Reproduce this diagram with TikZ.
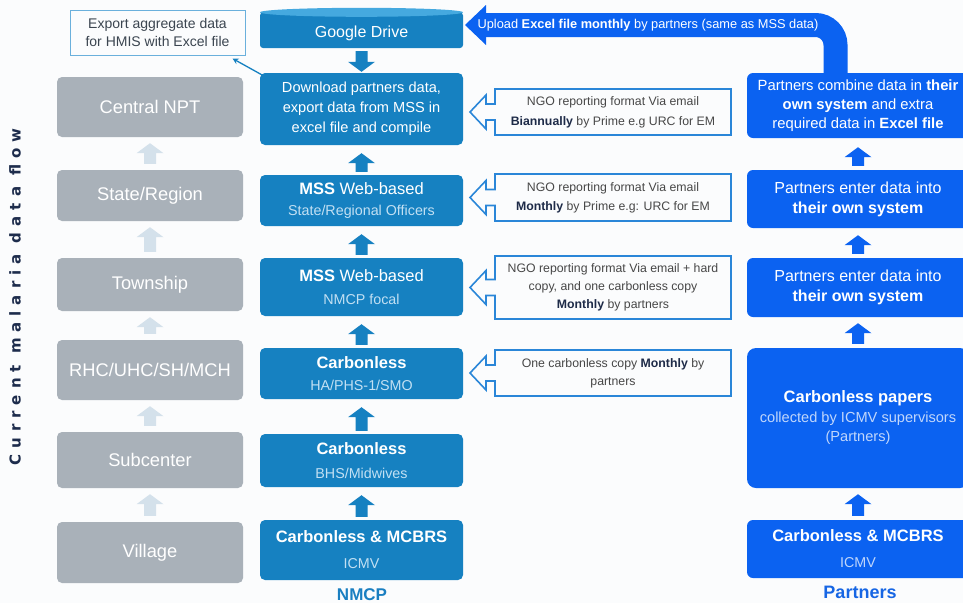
\documentclass[tikz,border=0pt]{standalone}
\usepackage{fontspec}
\setmainfont{Liberation Sans}
\newfontfamily\vfont[LetterSpace=40]{DejaVu Sans}
\usetikzlibrary{calc,arrows.meta}
\definecolor{greyc}{HTML}{A9B1B9}
\definecolor{greyarr}{HTML}{D4E1EB}
\definecolor{nmcpc}{HTML}{1681C1}
\definecolor{nmcpsub}{HTML}{C2E0F3}
\definecolor{drivetop}{HTML}{45A9DF}
\definecolor{partc}{HTML}{0B62F1}
\definecolor{partsub}{HTML}{C0D6FB}
\definecolor{callline}{HTML}{2A86D8}
\definecolor{calltxt}{HTML}{474747}
\definecolor{callbold}{HTML}{1E2B48}
\definecolor{expline}{HTML}{6AB0DC}
\definecolor{exptxt}{HTML}{3B4550}
\definecolor{vtext}{HTML}{1D2C4C}
\definecolor{bgc}{HTML}{FBFCFD}
\definecolor{nmcplab}{HTML}{1A7FC1}
\definecolor{partlab}{HTML}{1766E4}
\newcommand{\barrow}[3]{%
  \fill[#1] let \p1=#2, \p2=#3, \n1={ifthenelse(\y2>\y1,1,-1)} in
   (\x1-6pt,\y1) -- (\x1-6pt,\y2-\n1*10pt) -- (\x1-13.5pt,\y2-\n1*10pt) -- (\x1,\y2)
   -- (\x1+13.5pt,\y2-\n1*10pt) -- (\x1+6pt,\y2-\n1*10pt) -- (\x1+6pt,\y1) -- cycle;}
\newcommand{\callout}[5]{%
  \draw[callline, line width=1.6pt, line join=miter]
   (495,#2) -- (731,#2) -- (731,#3) -- (495,#3)
   -- (495,{(#2+#3)/2+8}) -- (486,{(#2+#3)/2+8}) -- (486,{(#2+#3)/2+17})
   -- (470,{(#2+#3)/2}) -- (486,{(#2+#3)/2-17}) -- (486,{(#2+#3)/2-8})
   -- (495,{(#2+#3)/2-8}) -- cycle;
  \node[calltext, font=\fontsize{12.3}{#4}\selectfont] (#1) at (613,{(#2+#3)/2}) {#5};}
\newcommand{\hb}[1]{{\color{callbold}\bfseries #1}}
\newcommand{\bt}[1]{{\fontsize{16.5}{21}\selectfont #1}}
\begin{document}
\begin{tikzpicture}[x=1pt,y=-1pt,
  greybox/.style={fill=greyc, rounded corners=5pt, minimum width=186pt, text=white,
    font=\fontsize{18.3}{20}\selectfont, inner sep=0pt},
  nbox/.style={fill=nmcpc, rounded corners=5pt, minimum width=203pt, text=white,
    align=center, inner sep=0pt},
  pbox/.style={fill=partc, rounded corners=6pt, minimum width=222pt, text=white,
    align=center, inner sep=0pt},
  calltext/.style={text=calltxt, align=center},
]
\useasboundingbox (0,0) rectangle (963,603);
\clip (0,0) rectangle (963,603);
\fill[bgc] (0,0) rectangle (963,603);

% vertical title
\node[rotate=90, text=vtext, font={\vfont\bfseries\fontsize{15}{18}\selectfont}] (vlabel) at (15,297) {Current malaria data flow};

% grey column
\node[greybox, minimum height=60pt] (central) at (150,107) {Central NPT};
\node[greybox, minimum height=51pt] (state) at (150,195.5) {State/Region};
\node[greybox, minimum height=53pt] (township) at (150,284.5) {Township};
\node[greybox, minimum height=60pt] (rhc) at (150,370) {RHC/UHC/SH/MCH};
\node[greybox, minimum height=56pt] (sub) at (150,460) {Subcenter};
\node[greybox, minimum height=61pt] (village) at (150,552.5) {Village};
\barrow{greyarr}{([yshift=6pt]state.north)}{([yshift=-6pt]central.south)}
\barrow{greyarr}{([yshift=6pt]township.north)}{([yshift=-6pt]state.south)}
\barrow{greyarr}{([yshift=6pt]rhc.north)}{([yshift=-6pt]township.south)}
\barrow{greyarr}{([yshift=6pt]sub.north)}{([yshift=-6pt]rhc.south)}
\barrow{greyarr}{([yshift=6pt]village.north)}{([yshift=-6pt]sub.south)}

% export box
\node[draw=expline, line width=1pt, text=exptxt, align=center, minimum width=175pt,
  minimum height=45pt, inner sep=0pt, font=\fontsize{14}{17.5}\selectfont] (export) at (157.5,32.5)
  {Export aggregate data\\for HMIS with Excel file};

% NMCP column
\node[nbox, rounded corners=3pt, minimum height=35.5pt] (drive) at (361.5,30.25) {};
\fill[drivetop] (drive.north) ellipse [x radius=101.5pt, y radius=4.5pt];
\node[text=white, font=\fontsize{16}{18}\selectfont] (drivelabel) at ([yshift=-3pt]drive.center) {Google Drive};
\node[nbox, minimum height=72pt, font=\fontsize{14.6}{20}\selectfont] (download) at (361.5,109)
  {Download partners data,\\export data from MSS in\\excel file and compile};
\node[nbox, minimum height=51pt, font=\fontsize{14.3}{21}\selectfont] (mss1) at (361.5,200.5)
  {\bt{\textbf{MSS} Web-based}\\{\color{nmcpsub}State/Regional Officers}};
\node[nbox, minimum height=58pt, font=\fontsize{14.3}{23}\selectfont] (mss2) at (361.5,287)
  {\bt{\textbf{MSS} Web-based}\\{\color{nmcpsub}NMCP focal}};
\node[nbox, minimum height=51pt, font=\fontsize{14.3}{22}\selectfont] (carb1) at (361.5,373.5)
  {\bt{\textbf{Carbonless}}\\{\color{nmcpsub}HA/PHS-1/SMO}};
\node[nbox, minimum height=53pt, font=\fontsize{14.3}{24}\selectfont] (carb2) at (361.5,460.5)
  {\bt{\textbf{Carbonless}}\\{\color{nmcpsub}BHS/Midwives}};
\node[nbox, minimum height=60pt, font=\fontsize{14.3}{26}\selectfont] (carb3) at (361.5,550)
  {\bt{\textbf{Carbonless \& MCBRS}}\\{\color{nmcpsub}ICMV}};
\barrow{nmcpc}{([yshift=-3pt]drive.south)}{([yshift=1pt]download.north)}
\barrow{nmcpc}{([yshift=3pt]mss1.north)}{([yshift=-8pt]download.south)}
\barrow{nmcpc}{([yshift=3pt]mss2.north)}{([yshift=-8pt]mss1.south)}
\barrow{nmcpc}{([yshift=3pt]carb1.north)}{([yshift=-8pt]mss2.south)}
\barrow{nmcpc}{([yshift=3pt]carb2.north)}{([yshift=-8pt]carb1.south)}
\barrow{nmcpc}{([yshift=3pt]carb3.north)}{([yshift=-8pt]carb2.south)}
\draw[nmcpc, line width=1.3pt, -{Stealth[length=6pt,width=6pt]}]
  ([xshift=2pt,yshift=-2pt]download.north west) -- ([xshift=-13pt,yshift=-3pt]export.south east);
\node[text=nmcplab, font=\bfseries\fontsize{17}{19}\selectfont] (nmcplabel) at (362,595) {NMCP};

% Partners column
\node[pbox, minimum height=65pt, font=\fontsize{14.8}{19}\selectfont] (pcombine) at (858,105.5)
  {Partners combine data in \textbf{their}\\\textbf{own system} and extra\\required data in \textbf{Excel file}};
\node[pbox, minimum height=58pt, font=\fontsize{16}{20}\selectfont] (penter1) at (858,199)
  {Partners enter data into\\\textbf{their own system}};
\node[pbox, minimum height=59pt, font=\fontsize{16}{20}\selectfont] (penter2) at (858,287.5)
  {Partners enter data into\\\textbf{their own system}};
\node[pbox, rounded corners=9pt, minimum height=140pt, font=\fontsize{14.6}{19.5}\selectfont] (ppapers) at (858,418)
  {\bt{\textbf{Carbonless papers}}\\{\color{partsub}collected by ICMV supervisors}\\{\color{partsub}(Partners)}};
\node[pbox, minimum height=58pt, font=\fontsize{14.3}{26}\selectfont] (picmv) at (858,549)
  {\bt{\textbf{Carbonless \& MCBRS}}\\{\color{partsub}ICMV}};
\barrow{partc}{([yshift=4pt]penter1.north)}{([yshift=-9pt]pcombine.south)}
\barrow{partc}{([yshift=4pt]penter2.north)}{([yshift=-7pt]penter1.south)}
\barrow{partc}{([yshift=4pt]ppapers.north)}{([yshift=-6pt]penter2.south)}
\barrow{partc}{([yshift=4pt]picmv.north)}{([yshift=-6pt]ppapers.south)}
\node[text=partlab, font=\bfseries\fontsize{18}{20}\selectfont] (partlabel) at (860,592) {Partners};

% upload arrow
\draw[partc, line width=24pt, rounded corners=20pt] ([xshift=-22.5pt]pcombine.north) |- (484,25);
\coordinate (uptip) at (465,25);
\fill[partc] (486,5) -- (uptip) -- (486,45) -- cycle;
\node[text=white, font=\fontsize{12.8}{14}\selectfont] (uplabel) at (648,25)
  {Upload \textbf{Excel file monthly} by partners (same as MSS data)};

% callouts
\callout{co1}{89}{135}{20}{NGO reporting format Via email\\\hb{Biannually} by Prime e.g URC for EM}
\callout{co2}{174}{221}{19}{NGO reporting format Via email\\\hb{Monthly} by Prime e.g: URC for EM}
\callout{co3}{256}{319}{18}{NGO reporting format Via email + hard\\copy, and one carbonless copy\\\hb{Monthly} by partners}
\callout{co4}{350}{396}{18}{One carbonless copy \hb{Monthly} by\\partners}
\end{tikzpicture}
\end{document}
